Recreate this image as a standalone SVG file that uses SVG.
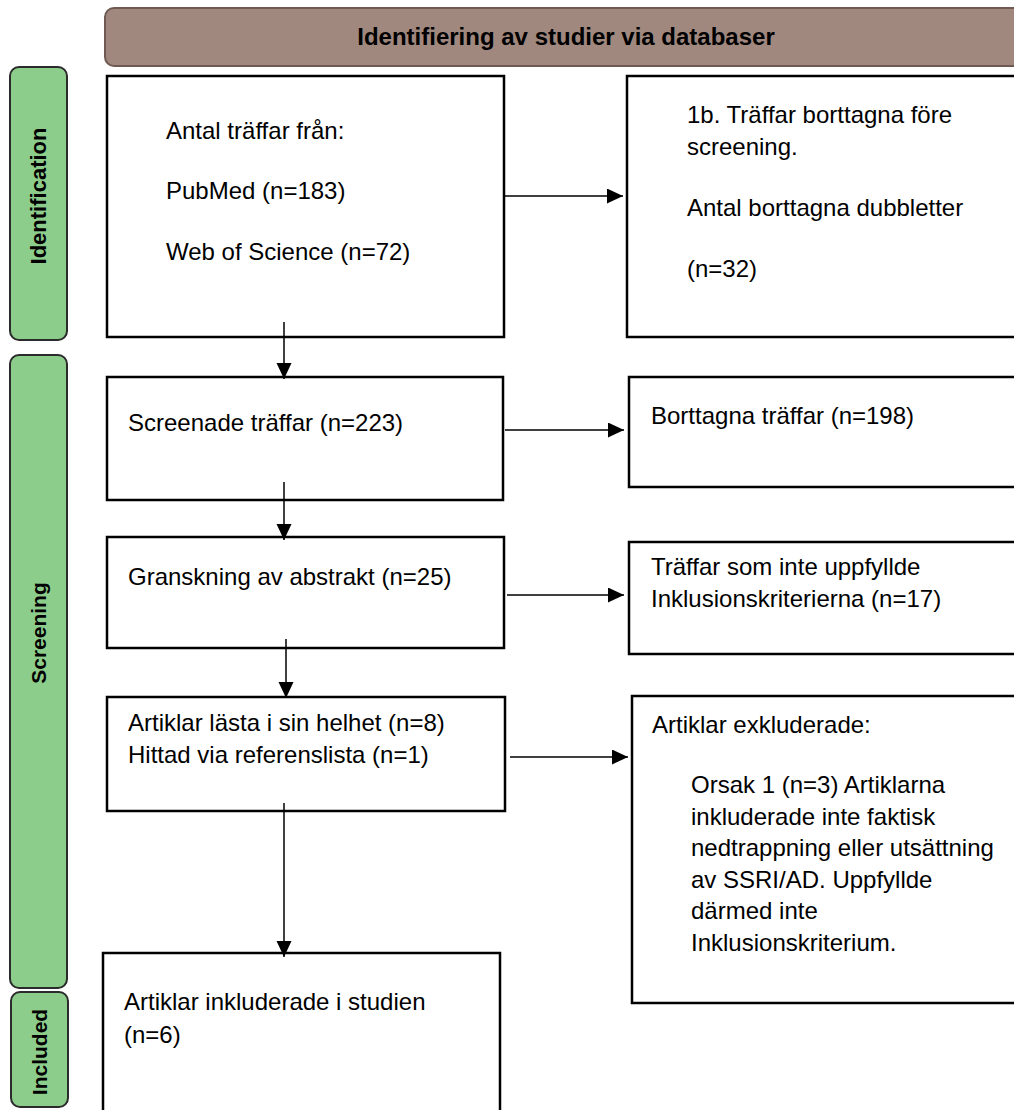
<svg xmlns="http://www.w3.org/2000/svg" width="1014" height="1110" viewBox="0 0 1014 1110">
<style>
.box{fill:#fff;stroke:#000;stroke-width:2.5}
.side{fill:#8dcd8b;stroke:#2b2b2b;stroke-width:2}
.t{font-family:"Liberation Sans",Arial,sans-serif;font-size:24px;fill:#000}
.sl{font-family:"Liberation Sans",Arial,sans-serif;font-size:21px;font-weight:bold;fill:#000}
.hd{font-family:"Liberation Sans",Arial,sans-serif;font-size:24px;font-weight:bold;fill:#000}
.c{fill:none;stroke:#000;stroke-width:1.5}
</style>
<defs>
<marker id="ah" markerUnits="userSpaceOnUse" markerWidth="16" markerHeight="16" refX="16" refY="7.5" orient="auto">
<path d="M0,0 L16,7.5 L0,15 Z" fill="#000"/>
</marker>
</defs>
<g id="header">
<rect x="105" y="8" width="1000" height="58" rx="9" fill="#a0887e" stroke="#6e5a53" stroke-width="2"/>
<text class="hd" x="566" y="45" text-anchor="middle">Identifiering av studier via databaser</text>
</g>
<g id="lbl-identification">
<rect class="side" x="10" y="67" width="57" height="273" rx="9"/>
<text class="sl" transform="translate(46,196) rotate(-90)" text-anchor="middle" style="font-size:22px">Identification</text>
</g>
<g id="lbl-screening">
<rect class="side" x="10" y="355" width="57" height="633" rx="9"/>
<text class="sl" transform="translate(46,633) rotate(-90)" text-anchor="middle">Screening</text>
</g>
<g id="lbl-included">
<rect class="side" x="11" y="992" width="57" height="115" rx="9"/>
<text class="sl" transform="translate(47,1052) rotate(-90)" text-anchor="middle">Included</text>
</g>
<g id="n-records">
<rect class="box" x="107" y="76" width="397" height="261"/>
<text class="t" x="166" y="139">Antal träffar från:</text>
<text class="t" x="166" y="199">PubMed (n=183)</text>
<text class="t" x="166" y="260">Web of Science (n=72)</text>
</g>
<g id="n-duplicates">
<rect class="box" x="627" y="76" width="420" height="261"/>
<text class="t" x="687" y="123">1b. Träffar borttagna före</text>
<text class="t" x="687" y="155">screening.</text>
<text class="t" x="687" y="216">Antal borttagna dubbletter</text>
<text class="t" x="687" y="277">(n=32)</text>
</g>
<g id="n-screened">
<rect class="box" x="107" y="377" width="396" height="123"/>
<text class="t" x="128" y="431">Screenade träffar (n=223)</text>
</g>
<g id="n-removed">
<rect class="box" x="629" y="377" width="420" height="110"/>
<text class="t" x="651" y="424">Borttagna träffar (n=198)</text>
</g>
<g id="n-abstract">
<rect class="box" x="107" y="537" width="397" height="111"/>
<text class="t" x="128" y="585">Granskning av abstrakt (n=25)</text>
</g>
<g id="n-notincluded">
<rect class="box" x="629" y="542" width="420" height="112"/>
<text class="t" x="651" y="575">Träffar som inte uppfyllde</text>
<text class="t" x="651" y="607">Inklusionskriterierna (n=17)</text>
</g>
<g id="n-fulltext">
<rect class="box" x="107" y="697" width="398" height="114"/>
<text class="t" x="128" y="731">Artiklar lästa i sin helhet (n=8)</text>
<text class="t" x="128" y="763">Hittad via referenslista (n=1)</text>
</g>
<g id="n-excluded">
<rect class="box" x="632" y="696" width="420" height="307"/>
<text class="t" x="652" y="733">Artiklar exkluderade:</text>
<text class="t" x="691" y="793">Orsak 1 (n=3) Artiklarna</text>
<text class="t" x="691" y="825">inkluderade inte faktisk</text>
<text class="t" x="691" y="856">nedtrappning eller utsättning</text>
<text class="t" x="691" y="888">av SSRI/AD. Uppfyllde</text>
<text class="t" x="691" y="919">därmed inte</text>
<text class="t" x="691" y="951">Inklusionskriterium.</text>
</g>
<g id="n-included">
<rect class="box" x="103" y="953" width="397" height="180"/>
<text class="t" x="124" y="1010">Artiklar inkluderade i studien</text>
<text class="t" x="124" y="1043">(n=6)</text>
</g>
<g id="connectors">
<line class="c" x1="505" y1="196" x2="623" y2="196" marker-end="url(#ah)"/>
<line class="c" x1="284" y1="322" x2="284" y2="379" marker-end="url(#ah)"/>
<line class="c" x1="505" y1="430" x2="624" y2="430" marker-end="url(#ah)"/>
<line class="c" x1="284" y1="482" x2="284" y2="540" marker-end="url(#ah)"/>
<line class="c" x1="507" y1="595" x2="624" y2="595" marker-end="url(#ah)"/>
<line class="c" x1="286" y1="639" x2="286" y2="698" marker-end="url(#ah)"/>
<line class="c" x1="510" y1="757" x2="628" y2="757" marker-end="url(#ah)"/>
<line class="c" x1="284" y1="803" x2="284" y2="957" marker-end="url(#ah)"/>
</g>
</svg>
